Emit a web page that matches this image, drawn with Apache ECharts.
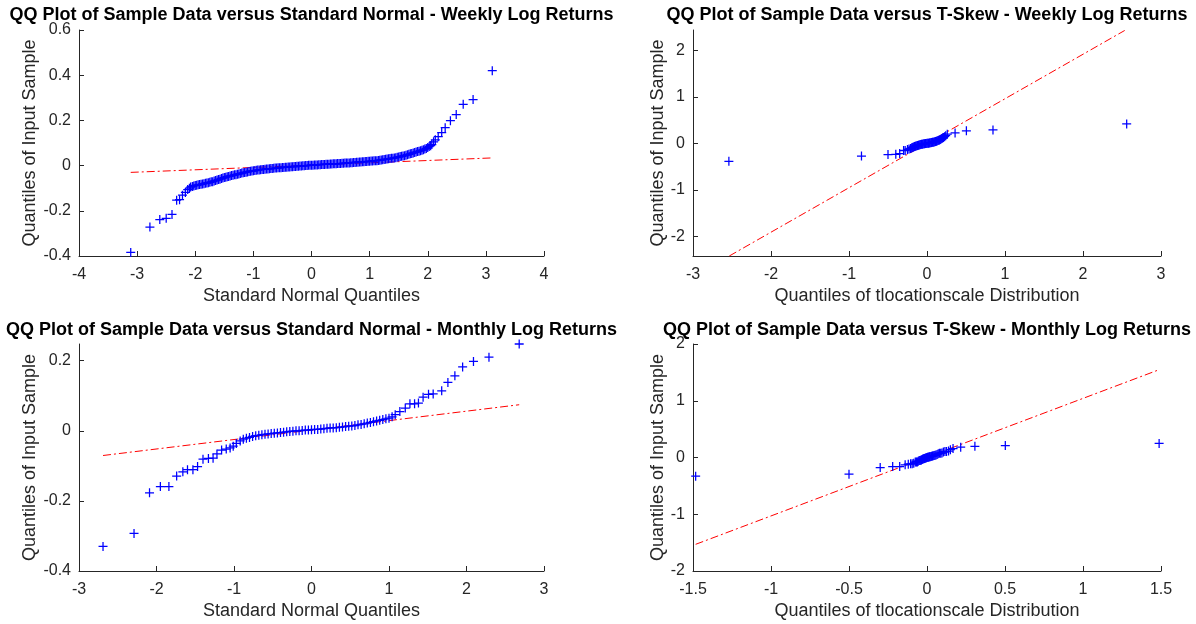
<!DOCTYPE html>
<html><head><meta charset="utf-8">
<script src="https://cdn.jsdelivr.net/npm/echarts@6/dist/echarts.min.js"></script>
<style>html,body{margin:0;padding:0;background:#fff}#c{width:1196px;height:624px}</style>
</head><body><div id="c"></div><script>
// ---------- titles / labels ----------
const titles = [
  'QQ Plot of Sample Data versus Standard Normal - Weekly Log Returns',
  'QQ Plot of Sample Data versus T-Skew - Weekly Log Returns',
  'QQ Plot of Sample Data versus Standard Normal - Monthly Log Returns',
  'QQ Plot of Sample Data versus T-Skew - Monthly Log Returns'
];
const xNames = ['Standard Normal Quantiles', 'Quantiles of tlocationscale Distribution',
                'Standard Normal Quantiles', 'Quantiles of tlocationscale Distribution'];
const yName = 'Quantiles of Input Sample';

// ---------- tick values ----------
const ticksTRy = [-2, -1, 0, 1, 2];
const ticksBLy = [-0.4, -0.2, 0, 0.2];

// ---------- data: weekly vs standard normal ----------
const weeklyNormal = [
  [-3.11,-0.384],[-2.78,-0.272],[-2.61,-0.239],[-2.50,-0.233],[-2.40,-0.216],[-2.32,-0.153],
  [-2.27,-0.151],[-2.22,-0.131],[-2.17,-0.119],[-2.13,-0.106],[-2.10,-0.100],[-2.08,-0.095],
  [-2.050,-0.092],[-2.025,-0.090],[-2.000,-0.088],[-1.975,-0.087],[-1.950,-0.085],[-1.925,-0.084],
  [-1.900,-0.083],[-1.875,-0.081],[-1.850,-0.080],[-1.825,-0.078],[-1.800,-0.077],[-1.775,-0.076],
  [-1.750,-0.074],[-1.725,-0.072],[-1.700,-0.071],[-1.675,-0.068],[-1.650,-0.066],[-1.625,-0.064],
  [-1.600,-0.062],[-1.575,-0.060],[-1.550,-0.057],[-1.525,-0.055],[-1.500,-0.053],[-1.475,-0.051],
  [-1.450,-0.049],[-1.425,-0.048],[-1.400,-0.046],[-1.375,-0.044],[-1.350,-0.043],[-1.325,-0.041],
  [-1.300,-0.040],[-1.275,-0.038],[-1.250,-0.037],[-1.225,-0.035],[-1.200,-0.033],[-1.175,-0.032],
  [-1.150,-0.030],[-1.125,-0.029],[-1.100,-0.028],[-1.075,-0.026],[-1.050,-0.025],[-1.025,-0.024],
  [-1.000,-0.023],[-0.975,-0.022],[-0.950,-0.021],[-0.925,-0.020],[-0.900,-0.019],[-0.875,-0.018],
  [-0.850,-0.017],[-0.825,-0.017],[-0.800,-0.016],[-0.775,-0.015],[-0.750,-0.015],[-0.725,-0.014],
  [-0.700,-0.013],[-0.675,-0.013],[-0.650,-0.012],[-0.625,-0.011],[-0.600,-0.011],[-0.575,-0.010],
  [-0.550,-0.010],[-0.525,-0.009],[-0.500,-0.008],[-0.475,-0.008],[-0.450,-0.007],[-0.425,-0.007],
  [-0.400,-0.006],[-0.375,-0.006],[-0.350,-0.005],[-0.325,-0.005],[-0.300,-0.004],[-0.275,-0.004],
  [-0.250,-0.003],[-0.225,-0.003],[-0.200,-0.002],[-0.175,-0.002],[-0.150,-0.001],[-0.125,-0.001],
  [-0.100,0.000],[-0.075,0.000],[-0.050,0.001],[-0.025,0.001],[0.000,0.002],[0.025,0.002],
  [0.050,0.003],[0.075,0.003],[0.100,0.003],[0.125,0.004],[0.150,0.004],[0.175,0.005],
  [0.200,0.005],[0.225,0.005],[0.250,0.006],[0.275,0.006],[0.300,0.006],[0.325,0.007],
  [0.350,0.007],[0.375,0.008],[0.400,0.008],[0.425,0.008],[0.450,0.009],[0.475,0.009],
  [0.500,0.009],[0.525,0.010],[0.550,0.010],[0.575,0.011],[0.600,0.011],[0.625,0.012],
  [0.650,0.012],[0.675,0.013],[0.700,0.013],[0.725,0.014],[0.750,0.014],[0.775,0.015],
  [0.800,0.015],[0.825,0.016],[0.850,0.016],[0.875,0.017],[0.900,0.017],[0.925,0.018],
  [0.950,0.018],[0.975,0.019],[1.000,0.019],[1.025,0.020],[1.050,0.020],[1.075,0.021],
  [1.100,0.022],[1.125,0.022],[1.150,0.023],[1.175,0.024],[1.200,0.025],[1.225,0.026],
  [1.250,0.027],[1.275,0.028],[1.300,0.029],[1.325,0.030],[1.350,0.031],[1.375,0.032],
  [1.400,0.033],[1.425,0.034],[1.450,0.035],[1.475,0.037],[1.500,0.038],[1.525,0.040],
  [1.550,0.041],[1.575,0.043],[1.600,0.044],[1.625,0.046],[1.650,0.048],[1.675,0.050],
  [1.700,0.052],[1.725,0.054],[1.750,0.056],[1.775,0.058],[1.800,0.060],[1.825,0.062],
  [1.850,0.064],[1.875,0.066],[1.900,0.068],[1.925,0.070],[1.950,0.073],[1.975,0.076],
  [2.000,0.080],[2.025,0.084],[2.05,0.088],[2.07,0.093],
  [2.10,0.105],[2.13,0.114],[2.18,0.128],[2.24,0.146],[2.30,0.168],[2.39,0.199],
  [2.49,0.226],[2.61,0.271],[2.78,0.292],[3.11,0.420]
];
const weeklyNormalLine = [[-3.11,-0.030],[3.11,0.034]];

// ---------- data: weekly vs T-skew ----------
const weeklyTSkew = [
  [-2.54,-0.384],[-0.84,-0.272],[-0.50,-0.239],[-0.40,-0.233],[-0.35,-0.216],[-0.30,-0.153],
  [-0.28,-0.151],[-0.25,-0.131],[-0.23,-0.119],[-0.21,-0.106],[-0.195,-0.095],
  [-0.190,-0.088],[-0.180,-0.080],[-0.170,-0.074],[-0.160,-0.066],[-0.150,-0.060],[-0.140,-0.053],
  [-0.130,-0.047],[-0.120,-0.042],[-0.110,-0.037],[-0.100,-0.032],[-0.090,-0.027],[-0.080,-0.023],
  [-0.070,-0.019],[-0.060,-0.015],[-0.050,-0.011],[-0.040,-0.008],[-0.030,-0.005],[-0.020,-0.002],
  [-0.010,0.000],[0.000,0.002],[0.010,0.004],[0.020,0.007],[0.030,0.010],[0.040,0.013],
  [0.050,0.016],[0.060,0.020],[0.070,0.024],[0.080,0.028],[0.090,0.033],[0.100,0.038],
  [0.110,0.043],[0.120,0.049],[0.130,0.055],[0.140,0.062],[0.150,0.069],[0.160,0.077],
  [0.170,0.086],[0.180,0.095],[0.190,0.105],[0.200,0.116],[0.210,0.128],[0.225,0.146],
  [0.24,0.168],[0.26,0.199],[0.36,0.226],[0.505,0.271],[0.846,0.292],[2.56,0.420]
];
const weeklyTSkewLine = [[-2.535,-2.42],[2.535,2.43]];

// ---------- data: monthly vs standard normal ----------
const monthlyNormal = [
  [-2.69,-0.330],[-2.29,-0.293],[-2.09,-0.177],[-1.95,-0.159],[-1.84,-0.159],[-1.74,-0.129],
  [-1.66,-0.117],[-1.60,-0.111],[-1.53,-0.111],[-1.47,-0.102],[-1.40,-0.081],[-1.33,-0.079],
  [-1.27,-0.078],[-1.22,-0.066],[-1.16,-0.055],[-1.10,-0.052],[-1.05,-0.049],[-1.01,-0.044],
  [-0.97,-0.036],[-0.92,-0.029],[-0.88,-0.024],[-0.84,-0.021],[-0.80,-0.019],
  [-0.76,-0.016],[-0.72,-0.014],[-0.68,-0.013],[-0.64,-0.011],[-0.60,-0.010],[-0.56,-0.009],
  [-0.52,-0.008],[-0.48,-0.007],[-0.44,-0.006],[-0.40,-0.005],[-0.36,-0.004],[-0.32,-0.003],
  [-0.28,-0.002],[-0.24,-0.001],[-0.20,0.000],[-0.16,0.000],[-0.12,0.001],[-0.08,0.002],
  [-0.04,0.002],[0.00,0.003],[0.04,0.004],[0.08,0.004],[0.12,0.005],[0.16,0.006],
  [0.20,0.007],[0.24,0.008],[0.28,0.008],[0.32,0.009],[0.36,0.010],[0.40,0.011],
  [0.44,0.012],[0.48,0.013],[0.52,0.014],[0.56,0.015],[0.60,0.017],[0.64,0.018],
  [0.68,0.020],[0.72,0.022],[0.76,0.024],[0.80,0.026],[0.84,0.028],[0.88,0.030],
  [0.92,0.032],[0.96,0.034],[1.00,0.036],[1.04,0.040],
  [1.08,0.046],[1.14,0.055],[1.21,0.065],[1.27,0.077],[1.33,0.077],[1.38,0.079],
  [1.44,0.096],[1.51,0.104],[1.57,0.105],[1.68,0.114],[1.76,0.138],[1.85,0.157],
  [1.95,0.182],[2.09,0.198],[2.29,0.210],[2.68,0.2476]
];
const monthlyNormalLine = [[-2.69,-0.0705],[2.68,0.0743]];

// ---------- data: monthly vs T-skew ----------
const monthlyTSkew = [
  [-1.483,-0.330],[-0.50,-0.293],[-0.30,-0.177],[-0.22,-0.159],[-0.175,-0.159],[-0.14,-0.129],
  [-0.12,-0.117],[-0.105,-0.111],[-0.095,-0.111],[-0.085,-0.102],
  [-0.075,-0.081],[-0.068,-0.079],[-0.062,-0.078],[-0.056,-0.066],[-0.050,-0.055],[-0.045,-0.052],
  [-0.040,-0.049],[-0.036,-0.044],[-0.032,-0.036],[-0.028,-0.029],[-0.024,-0.024],[-0.020,-0.020],
  [-0.016,-0.016],[-0.012,-0.012],[-0.008,-0.008],[-0.004,-0.004],[0.000,0.000],[0.004,0.003],
  [0.008,0.006],[0.012,0.009],[0.016,0.012],[0.020,0.015],[0.025,0.018],[0.030,0.022],
  [0.035,0.026],[0.040,0.030],[0.046,0.034],[0.052,0.038],[0.058,0.046],[0.065,0.055],
  [0.072,0.065],[0.080,0.077],[0.088,0.077],[0.096,0.079],[0.105,0.096],[0.115,0.104],
  [0.125,0.105],[0.138,0.114],[0.15,0.138],[0.167,0.157],[0.216,0.182],[0.307,0.198],
  [0.502,0.210],[1.488,0.2476]
];
const monthlyTSkewLine = [[-1.483,-1.53],[1.488,1.547]];

// ---------- build ----------
const FONT = '"Liberation Sans", Arial, Helvetica, sans-serif';
const AX = '#262626';
const PLUS = 'path://M0,4.3H10V5.7H0Z M4.3,0H5.7V10H4.3Z';

const grids = [
  {left: 79, top: 30, width: 465, height: 226},
  {left: 693, top: 30, width: 468, height: 226},
  {left: 79, top: 344, width: 465, height: 227},
  {left: 693, top: 344, width: 468, height: 227}
];
const titleCenters = [[311.5, 6], [927, 6], [311.5, 321], [927, 321]];

function baseAxis(gi) {
  return {
    gridIndex: gi, type: 'value', scale: false,
    axisLine: {show: true, onZero: false, lineStyle: {color: AX, width: 1}},
    axisTick: {show: true, inside: true, length: 5, lineStyle: {color: AX, width: 1}},
    axisLabel: {color: AX, fontSize: 16, fontFamily: FONT},
    splitLine: {show: false},
    nameTextStyle: {color: AX, fontSize: 18, fontFamily: FONT}
  };
}
function xAxis(gi, min, max, interval) {
  const a = baseAxis(gi);
  Object.assign(a, {min, max, interval, name: xNames[gi], nameLocation: 'middle', nameGap: 31});
  a.axisLabel.margin = 11;
  return a;
}
function yAxis(gi, min, max, interval, custom, gap) {
  const a = baseAxis(gi);
  Object.assign(a, {min, max, name: yName, nameLocation: 'middle', nameGap: gap});
  a.axisLabel.margin = 8;
  if (custom) {
    a.axisLabel.customValues = custom;
    a.axisTick.customValues = custom;
  } else {
    a.interval = interval;
  }
  return a;
}

const xAxes = [
  xAxis(0, -4, 4, 1),
  xAxis(1, -3, 3, 1),
  xAxis(2, -3, 3, 1),
  xAxis(3, -1.5, 1.5, 0.5)
];
const yAxes = [
  yAxis(0, -0.4, 0.6, 0.2, null, 38),
  yAxis(1, -2.42, 2.44, null, ticksTRy, 26),
  yAxis(2, -0.4, 0.2476, null, ticksBLy, 38),
  yAxis(3, -2, 2, 1, null, 26)
];

const pts = [weeklyNormal, weeklyTSkew, monthlyNormal, monthlyTSkew];
const lines = [weeklyNormalLine, weeklyTSkewLine, monthlyNormalLine, monthlyTSkewLine];
const series = [];
for (let i = 0; i < 4; i++) {
  series.push({
    type: 'line', xAxisIndex: i, yAxisIndex: i, data: lines[i], showSymbol: false, symbol: 'none',
    lineStyle: {color: '#ff0000', width: 1, type: [8, 3, 2, 3]}, z: 1, silent: true
  });
  series.push({
    type: 'scatter', xAxisIndex: i, yAxisIndex: i, data: pts[i], symbol: PLUS, symbolSize: 9,
    itemStyle: {color: '#0000ff', opacity: 1}, z: 2, silent: true
  });
}

const chart = echarts.init(document.getElementById('c'), null, {renderer: 'canvas'});
chart.setOption({
  animation: false,
  backgroundColor: '#ffffff',
  title: titles.map((t, i) => ({
    text: t, left: titleCenters[i][0], top: titleCenters[i][1], textAlign: 'center', padding: 0,
    textStyle: {fontSize: 18, fontWeight: 'bold', color: '#000000', fontFamily: FONT}
  })),
  grid: grids,
  xAxis: xAxes,
  yAxis: yAxes,
  series: series
});
</script></body></html>
